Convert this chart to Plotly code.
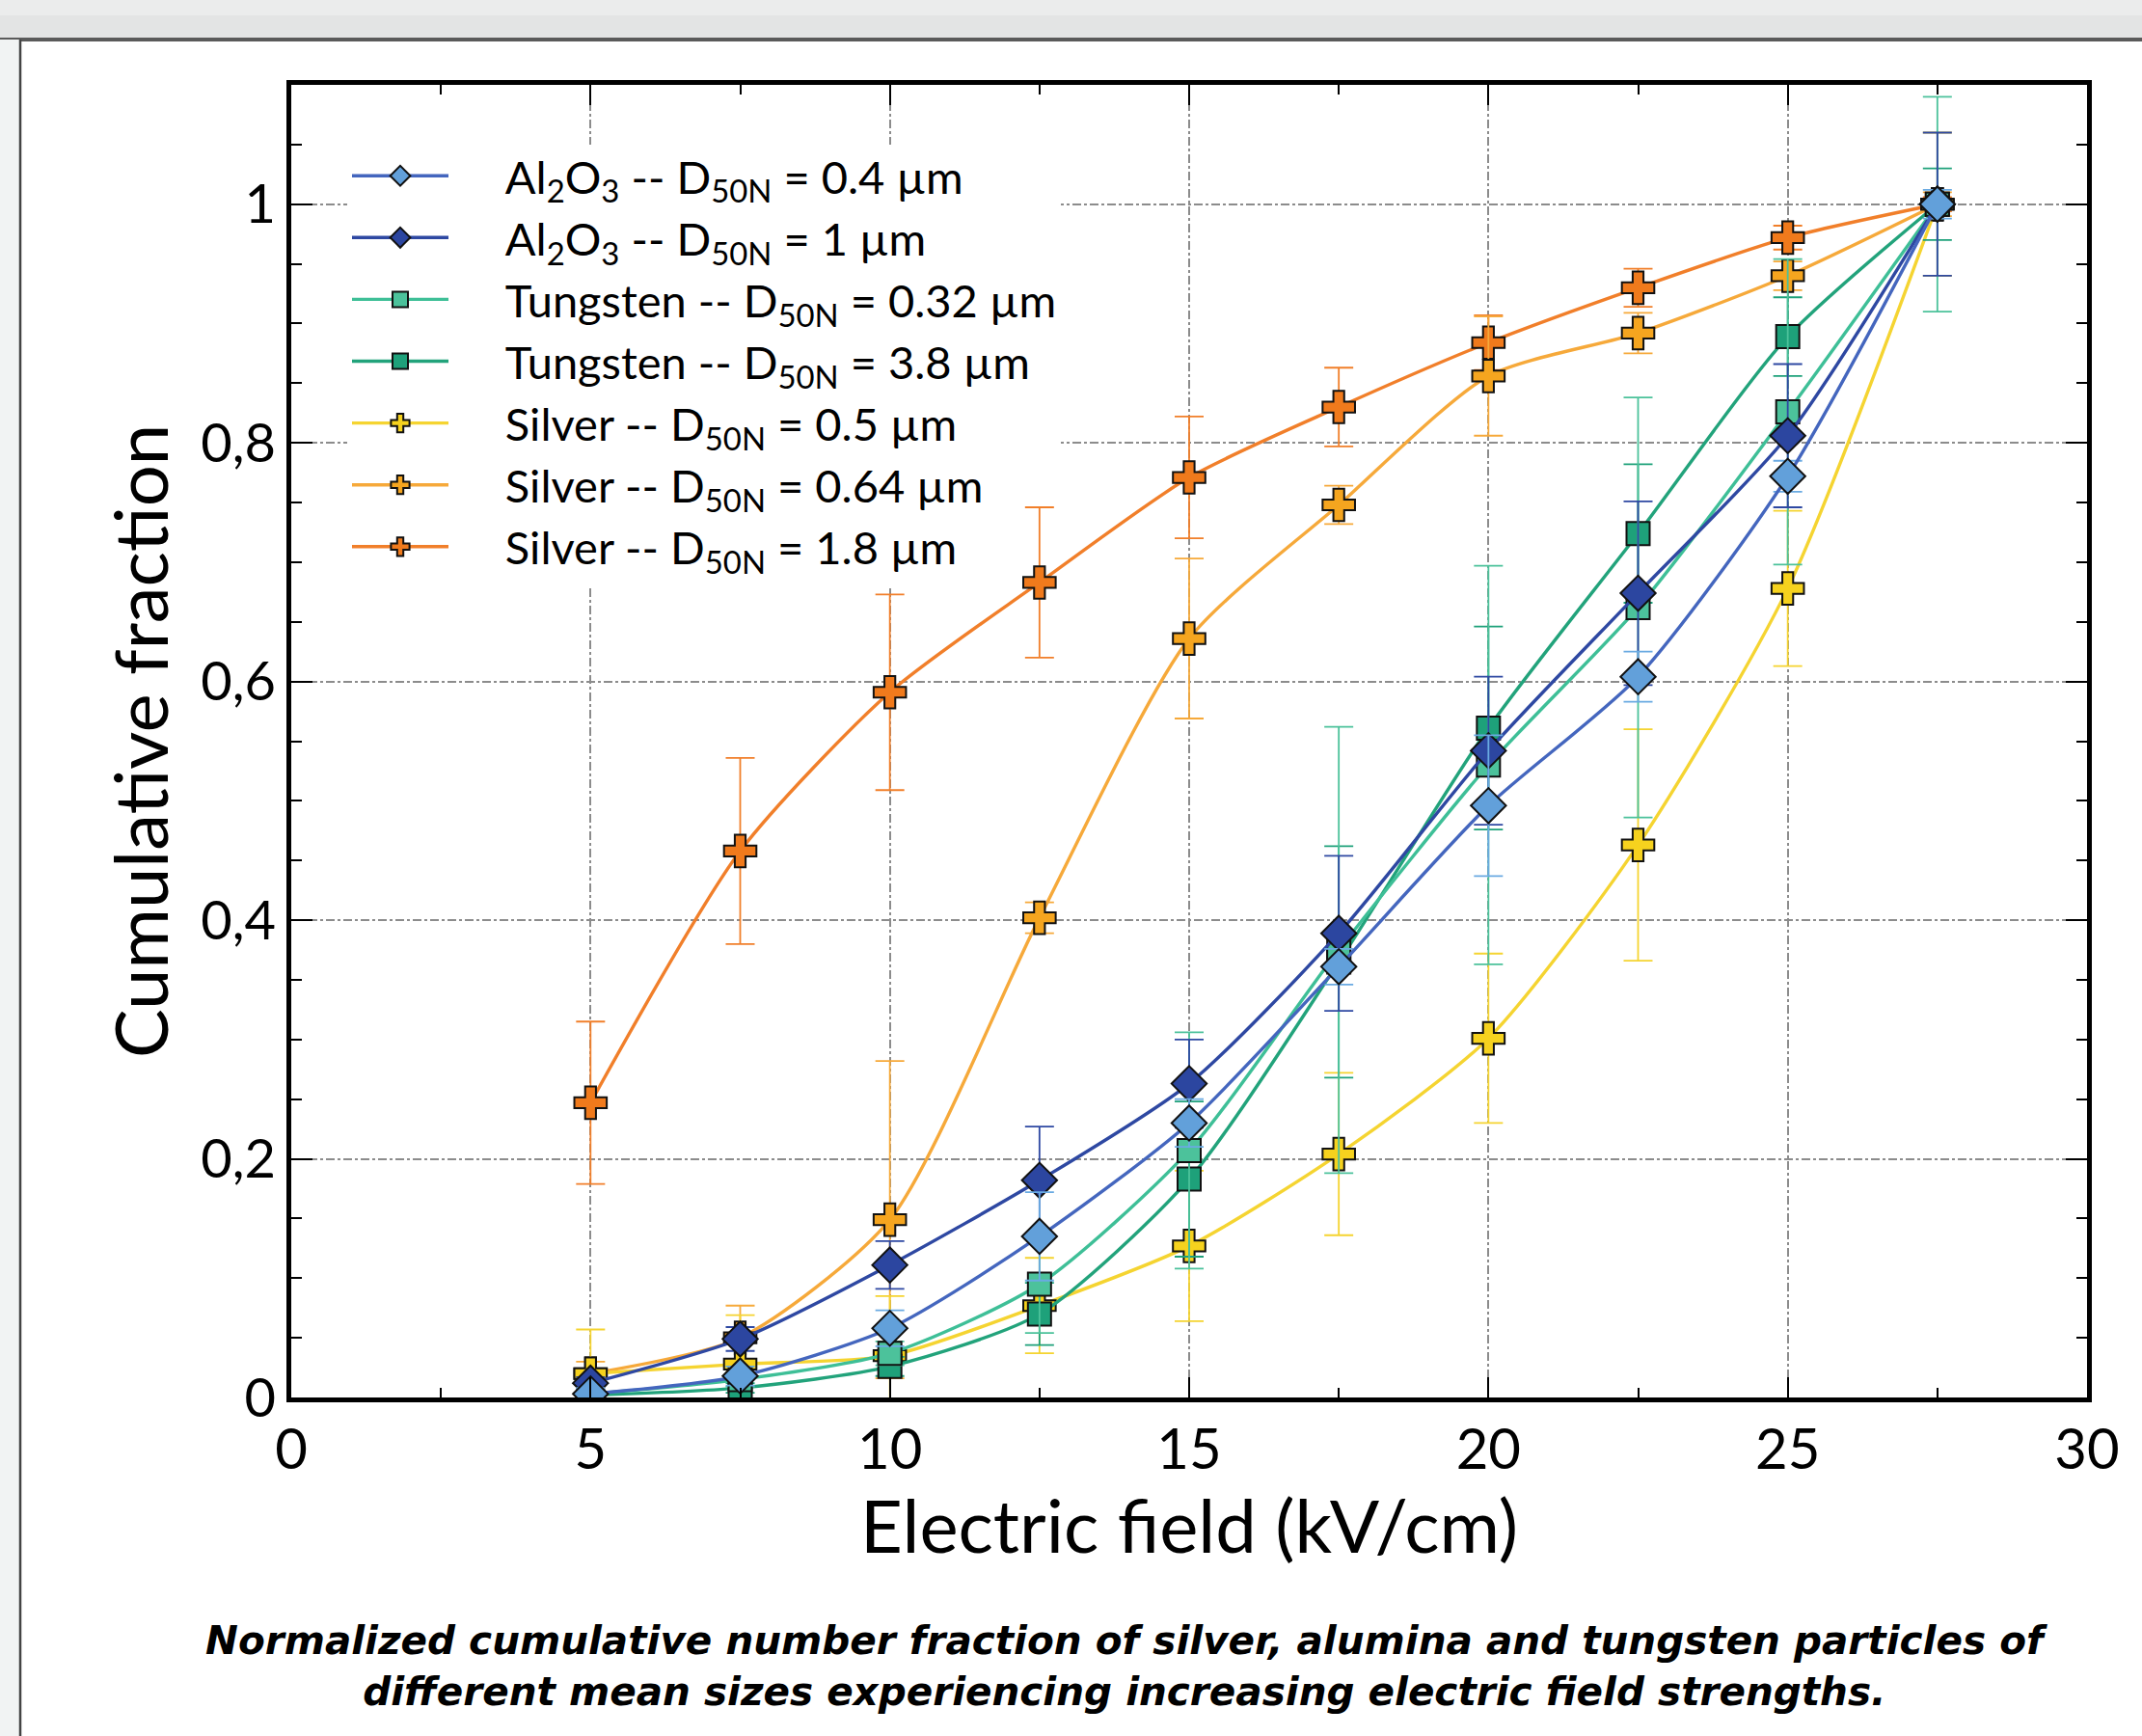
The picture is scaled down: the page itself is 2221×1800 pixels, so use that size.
import plotly.graph_objects as go

# ---------------- data ----------------
field = [5, 7.5, 10, 12.5, 15, 17.5, 20, 22.5, 25, 27.5]

series_names = [
    "Al<sub>2</sub>O<sub>3</sub> -- D<sub>50N</sub> = 0.4 µm",
    "Al<sub>2</sub>O<sub>3</sub> -- D<sub>50N</sub> = 1 µm",
    "Tungsten -- D<sub>50N</sub> = 0.32 µm",
    "Tungsten -- D<sub>50N</sub> = 3.8 µm",
    "Silver -- D<sub>50N</sub> = 0.5 µm",
    "Silver -- D<sub>50N</sub> = 0.64 µm",
    "Silver -- D<sub>50N</sub> = 1.8 µm",
]

al_04 = [0.003, 0.018, 0.058, 0.135, 0.230, 0.361, 0.496, 0.604, 0.772, 1.0]
al_04_err = [0.005, 0.008, 0.015, 0.037, 0.020, 0.015, 0.059, 0.021, 0.013, 0.012]

al_1 = [0.012, 0.049, 0.111, 0.182, 0.263, 0.389, 0.542, 0.674, 0.806, 1.0]
al_1_err = [0.005, 0.010, 0.020, 0.045, 0.037, 0.065, 0.062, 0.077, 0.060, 0.060]

w_032 = [0.003, 0.015, 0.037, 0.095, 0.207, 0.375, 0.530, 0.662, 0.826, 1.0]
w_032_err = [0.003, 0.006, 0.010, 0.041, 0.099, 0.187, 0.167, 0.176, 0.128, 0.090]

w_38 = [0.002, 0.008, 0.026, 0.070, 0.183, 0.365, 0.561, 0.724, 0.889, 1.0]
w_38_err = [0.002, 0.004, 0.008, 0.026, 0.065, 0.097, 0.085, 0.058, 0.033, 0.030]

ag_05 = [0.020, 0.028, 0.035, 0.077, 0.127, 0.204, 0.301, 0.463, 0.678, 1.0]
ag_05_err = [0.037, 0.041, 0.050, 0.040, 0.063, 0.068, 0.071, 0.097, 0.065, 0.060]

ag_064 = [0.020, 0.050, 0.149, 0.402, 0.636, 0.748, 0.856, 0.892, 0.940, 1.0]
ag_064_err = [0.010, 0.027, 0.133, 0.013, 0.067, 0.016, 0.050, 0.017, 0.012, 0.010]

ag_18 = [0.247, 0.458, 0.591, 0.683, 0.771, 0.830, 0.884, 0.930, 0.972, 1.0]
ag_18_err = [0.068, 0.078, 0.082, 0.063, 0.051, 0.033, 0.023, 0.016, 0.010, 0.006]

values = [al_04, al_1, w_032, w_38, ag_05, ag_064, ag_18]
errors = [al_04_err, al_1_err, w_032_err, w_38_err, ag_05_err, ag_064_err, ag_18_err]

x_ticks = [0, 5, 10, 15, 20, 25, 30]
y_ticks = [0, 0.2, 0.4, 0.6, 0.8, 1.0]

caption = ("Normalized cumulative number fraction of silver, alumina and tungsten particles of<br>"
           "different mean sizes experiencing increasing electric field strengths.")

# ---------------- styles ----------------
marker_colors = ["#62A0DA", "#2C46A0", "#4CC29B", "#1EA17A", "#F6D21E", "#F5A51F", "#F07A1C"]
line_colors = ["#4466BE", "#2E48A2", "#3EBF97", "#22A37B", "#F5D431", "#F6A93A", "#F17F2A"]
err_colors = ["#6AAAE2", "#2E48A2", "#4CC29B", "#1EA17A", "#F5D431", "#F6A93A", "#F17F2A"]
symbols = ["diamond", "diamond", "square", "square", "cross", "cross", "cross"]
sizes = [28, 28, 24, 24, 28, 28, 28]

TXT = "Lato, Liberation Sans, Arial, sans-serif"
GAP = "\u2003\u2004\u200A"  # gap between legend symbol and text

fig = go.Figure()

# draw silver first, Al2O3 0.4 last (on top); legend reversed
for i in reversed(range(len(values))):
    fig.add_trace(go.Scatter(
        x=field, y=values[i], name=GAP + series_names[i],
        mode="lines+markers",
        line=dict(color=line_colors[i], width=3.4, shape="spline", smoothing=0.7),
        marker=dict(symbol=symbols[i], size=sizes[i], color=marker_colors[i],
                    line=dict(color="#111111", width=2)),
        error_y=dict(type="data", array=errors[i], visible=True,
                     color=err_colors[i], thickness=1.8, width=15),
    ))

grid_style = dict(showgrid=True, gridcolor="#8c8c8c", gridwidth=1.6, griddash="dashdot")

fig.update_xaxes(
    range=[0, 30], tickvals=x_ticks, ticks="inside", ticklen=21, tickwidth=2.2,
    tickcolor="black", showline=True, linecolor="black", linewidth=4.5, mirror="ticks",
    zeroline=False, tickfont=dict(family=TXT, size=58, color="black"),
    ticklabelstandoff=0,
    minor=dict(ticks="inside", dtick=2.5, ticklen=10, tickwidth=2, tickcolor="black", showgrid=False),
    title=dict(text="Electric field (kV/cm)", font=dict(family=TXT, size=76, color="black"), standoff=10),
    **grid_style,
)
fig.update_yaxes(
    range=[0, 1.1], tickvals=y_ticks, ticks="inside", ticklen=22, tickwidth=2.2,
    tickcolor="black", showline=True, linecolor="black", linewidth=4.5, mirror="ticks",
    zeroline=False, tickfont=dict(family=TXT, size=56, color="black"),
    ticklabelstandoff=0,
    minor=dict(ticks="inside", dtick=0.05, ticklen=11, tickwidth=2, tickcolor="black", showgrid=False),
    title=dict(text="Cumulative fraction", font=dict(family=TXT, size=76, color="black"), standoff=10),
    **grid_style,
)

# white panel behind the legend text (hides grid lines, leaves the data visible)
fig.add_shape(type="rect", xref="paper", yref="paper",
              x0=(360 - 302) / 1862, x1=(1058 - 302) / 1862,
              y0=(1449 - 608) / 1361, y1=(1449 - 150) / 1361,
              fillcolor="white", line=dict(width=0), layer="above")
fig.add_shape(type="rect", xref="paper", yref="paper",
              x0=(1056 - 302) / 1862, x1=(1100 - 302) / 1862,
              y0=(1449 - 520) / 1361, y1=(1449 - 150) / 1361,
              fillcolor="white", line=dict(width=0), layer="above")

# page decoration (screenshot frame)
fig.add_shape(type="rect", xref="paper", yref="paper", x0=-0.2, x1=1.1,
              y0=(1449 - 40) / 1361, y1=(1449 + 5) / 1361,
              fillcolor="#e3e4e4", line=dict(width=0), layer="below")
fig.add_shape(type="rect", xref="paper", yref="paper", x0=-0.2, x1=1.1,
              y0=(1449 - 16) / 1361, y1=(1449 + 5) / 1361,
              fillcolor="#ebecec", line=dict(width=0), layer="below")
fig.add_shape(type="line", xref="paper", yref="paper", x0=-0.2, x1=1.1,
              y0=(1449 - 41) / 1361, y1=(1449 - 41) / 1361,
              line=dict(color="#5a5a5a", width=4), layer="below")
fig.add_shape(type="rect", xref="paper", yref="paper", x0=-0.2, x1=(20 - 302) / 1862,
              y0=-0.3, y1=(1449 - 41) / 1361,
              fillcolor="#f1f3f3", line=dict(width=0), layer="below")
fig.add_shape(type="line", xref="paper", yref="paper", x0=(21 - 302) / 1862, x1=(21 - 302) / 1862,
              y0=-0.3, y1=(1449 - 41) / 1361,
              line=dict(color="#444444", width=2.5), layer="below")

fig.add_annotation(
    text=caption, xref="paper", yref="paper", x=(1168 - 302) / 1862, y=(1449 - 1728) / 1361,
    xanchor="center", yanchor="middle", showarrow=False, align="center",
    font=dict(family="DejaVu Sans, Verdana, sans-serif", size=40.5, color="black",
              weight="bold", style="italic"),
)

fig.update_layout(
    width=2221, height=1800,
    margin=dict(l=302, r=57, t=88, b=351, autoexpand=False),
    paper_bgcolor="white", plot_bgcolor="white",
    separators=", ",
    legend=dict(
        x=(360 - 302) / 1862, y=0.958, xanchor="left", yanchor="top",
        bgcolor="rgba(255,255,255,0)", borderwidth=0, traceorder="reversed",
        font=dict(family=TXT, size=47, color="black"),
        itemwidth=100, tracegroupgap=0,
    ),
    showlegend=True,
)

fig.write_html("out.html", config={"displayModeBar": False},
               post_script="document.body.style.margin='0px';")
